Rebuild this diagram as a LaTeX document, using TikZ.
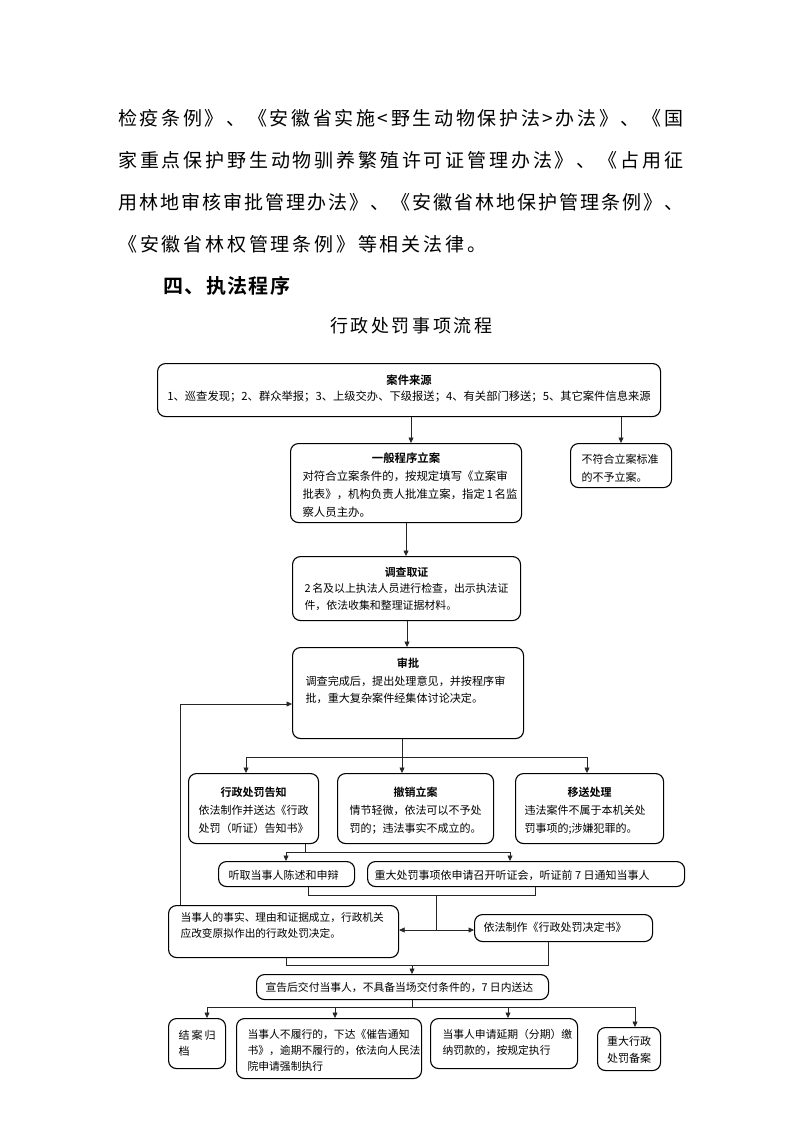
\documentclass[tikz,border=0pt]{standalone}
\usepackage{fontspec}
\setmainfont{Noto Sans CJK SC}[BoldFont={Noto Sans CJK SC Bold}]
\usetikzlibrary{arrows.meta,calc}
\def\spreadchars#1{#1\spreadnext}
\def\spreadnext#1{\ifx\relax#1\else\hfill#1\expandafter\spreadnext\fi}
% name, x1, y1, x2, y2, padx, pady, content, font
\newcommand\fbx[9]{%
  \node[box, inner xsep=#6pt, inner ysep=#7pt] (#1) at (#2,#3)
  {\parbox[c][\dimexpr #5pt-#3pt-#7pt-#7pt\relax][t]{\dimexpr #4pt-#2pt-#6pt-#6pt\relax}{#9\parindent=0pt\relax #8}};}
\begin{document}
\begin{tikzpicture}[x=1pt,y=-1pt,
  box/.style={draw, line width=1.1pt, rounded corners=8pt, anchor=north west},
  conn/.style={draw=black!85, line width=0.6pt},
  arr/.style={conn, -{Triangle[length=5.5pt,width=5pt]}},
  para/.style={anchor=west, inner sep=0pt}]
\useasboundingbox (0,0) rectangle (793,1122);
\fill[white] (0,0) rectangle (793,1122);

% ---- paragraph text ----
\node[para] (p1) at (118,118) {\fontsize{19}{19}\selectfont\hbox to 565pt{\spreadchars 检疫条例》、《安徽省实施<野生动物保护法>办法》、《国\relax}};
\node[para] (p2) at (118,160) {\fontsize{19}{19}\selectfont\hbox to 565pt{\spreadchars 家重点保护野生动物驯养繁殖许可证管理办法》、《占用征\relax}};
\node[para] (p3) at (118,202) {\fontsize{19}{19}\selectfont\hbox to 565pt{\spreadchars 用林地审核审批管理办法》、《安徽省林地保护管理条例》、\relax}};
\node[para] (p4) at (118,244) {\fontsize{19}{19}\selectfont\hbox to 368pt{\spreadchars 《安徽省林权管理条例》等相关法律。\relax}};
\node[para] (p5) at (163,286) {\fontsize{20}{20}\selectfont\bfseries\hbox to 127pt{\spreadchars 四、执法程序\relax}};
\node[para] (title) at (330,326) {\fontsize{18}{18}\selectfont\hbox to 162pt{\spreadchars 行政处罚事项流程\relax}};

% ---- boxes ----
\fbx{A}{157}{363}{660}{416}{6}{11}{\centerline{\bfseries 案件来源}\centerline{1、巡查发现；2、群众举报；3、上级交办、下级报送；4、有关部门移送；5、其它案件信息来源}}{\fontsize{11.3}{16}\selectfont}
\fbx{B}{290}{443}{521}{522}{12}{9.5}{\centerline{\bfseries 一般程序立案}对符合立案条件的，按规定填写《立案审\\批表》，机构负责人批准立案，指定~1~名监\\察人员主办。}{\fontsize{11.4}{18}\selectfont}
\fbx{C}{570}{443}{671}{487}{11}{10.5}{不符合立案标准\\的不予立案。}{\fontsize{11}{18}\selectfont}
\fbx{D}{292}{556}{520}{620}{12}{10.5}{\centerline{\bfseries 调查取证}2~名及以上执法人员进行检查，出示执法证\\件，依法收集和整理证据材料。}{\fontsize{10.9}{16.5}\selectfont}
\fbx{E}{292}{647}{523}{738}{13}{10.5}{\centerline{\bfseries 审批}调查完成后，提出处理意见，并按程序审\\批，重大复杂案件经集体讨论决定。}{\fontsize{11.1}{17.5}\selectfont}
\fbx{G1}{188}{773}{318}{843}{10}{13.5}{\centerline{\bfseries 行政处罚告知}依法制作并送达《行政\\处罚（听证）告知书》}{\fontsize{11}{18}\selectfont}
\fbx{G2}{337}{773}{493}{843}{12}{13.5}{\centerline{\bfseries 撤销立案}情节轻微，依法可以不予处\\罚的；违法事实不成立的。}{\fontsize{11}{18}\selectfont}
\fbx{G3}{515}{773}{663}{843}{9}{13.5}{\centerline{\bfseries 移送处理}违法案件不属于本机关处\\罚事项的;涉嫌犯罪的。}{\fontsize{11}{18}\selectfont}
\fbx{H1}{218}{861}{354}{886}{10}{8.5}{听取当事人陈述和申辩}{\fontsize{11}{16}\selectfont}
\fbx{H2}{367}{861}{684}{886}{7}{8.5}{重大处罚事项依申请召开听证会，听证前~7~日通知当事人}{\fontsize{11}{16}\selectfont}
\fbx{F}{168}{905}{398}{957}{12}{6.5}{当事人的事实、理由和证据成立，行政机关\\应改变原拟作出的行政处罚决定。}{\fontsize{10.7}{16}\selectfont}
\fbx{I}{474}{914}{652}{941}{9}{7.5}{依法制作《行政处罚决定书》}{\fontsize{11}{16}\selectfont}
\fbx{J}{256}{974}{548}{999}{9}{7.5}{宣告后交付当事人，不具备当场交付条件的，7~日内送达}{\fontsize{10.8}{16}\selectfont}
\fbx{K1}{168}{1018}{225}{1068}{10}{11.5}{\hbox to\hsize{结\hfill 案\hfill 归}档}{\fontsize{11}{16}\selectfont}
\fbx{K2}{236}{1018}{421}{1078}{11}{10.5}{当事人不履行的，下达《催告通知\\书》，逾期不履行的，依法向人民法\\院申请强制执行}{\fontsize{10.8}{16}\selectfont}
\fbx{K3}{430}{1018}{577}{1068}{12}{10.5}{当事人申请延期（分期）缴\\纳罚款的，按规定执行}{\fontsize{10.8}{16}\selectfont}
\fbx{K4}{597}{1027}{660}{1070}{4}{8.5}{\centerline{重大行政}\centerline{处罚备案}}{\fontsize{11}{17}\selectfont}

% ---- connectors ----
\coordinate (xAB) at (411,0);
\coordinate (xAC) at (621,0);
\coordinate (xBD) at (406,0);
\coordinate (xDE) at (407,0);
\draw[arr] (xAB |- A.south) -- (xAB |- B.north);
\draw[arr] (xAC |- A.south) -- (xAC |- C.north);
\draw[arr] (xBD |- B.south) -- (xBD |- D.north);
\draw[arr] (xDE |- D.south) -- (xDE |- E.north);

% E -> G1, G2, G3
\coordinate (jE) at (402,757);
\coordinate (g1x) at (246,757);
\coordinate (g3x) at (587,757);
\draw[conn] (g1x) -- (g3x);
\draw[arr] (jE |- E.south) -- (jE |- G2.north);
\draw[arr] (g1x) -- (g1x |- G1.north);
\draw[arr] (g3x) -- (g3x |- G3.north);

% feedback F -> E
\coordinate (fb) at (180,704);
\draw[arr] (fb |- F.north) -- (fb) -- (E.west |- fb);

% G1 -> H1, H2
\coordinate (jG) at (305,852);
\coordinate (h1x) at (286,852);
\coordinate (h2x) at (510,852);
\draw[conn] (jG |- G1.south) -- (jG);
\draw[conn] (h1x) -- (h2x);
\draw[arr] (h1x) -- (h1x |- H1.north);
\draw[arr] (h2x) -- (h2x |- H2.north);

% H1, H2 -> F, I
\coordinate (m1) at (308,895);
\coordinate (m2) at (535,895);
\coordinate (mH) at (436,895);
\coordinate (mF) at (436,930);
\draw[conn] (m1 |- H1.south) -- (m1) -- (m2) -- (m2 |- H2.south);
\draw[conn] (mH) -- (mF);
\draw[arr] (mF) -- (F.east |- mF);
\draw[arr] (mF) -- (I.west |- mF);

% F, I -> J
\coordinate (n1) at (286,965);
\coordinate (n2) at (548,965);
\coordinate (nJ) at (412,965);
\draw[conn] (n1 |- F.south) -- (n1) -- (n2) -- (n2 |- I.south);
\draw[arr] (nJ) -- (nJ |- J.north);

% J -> K1..K4
\coordinate (jJ) at (412,1007);
\coordinate (k1) at (207,1007);
\coordinate (k2) at (335,1007);
\coordinate (k3) at (508,1007);
\coordinate (k4) at (635,1007);
\draw[conn] (jJ |- J.south) -- (jJ);
\draw[conn] (k1) -- (k4);
\draw[arr] (k1) -- (k1 |- K1.north);
\draw[arr] (k2) -- (k2 |- K2.north);
\draw[arr] (k3) -- (k3 |- K3.north);
\draw[arr] (k4) -- (k4 |- K4.north);
\end{tikzpicture}
\end{document}
